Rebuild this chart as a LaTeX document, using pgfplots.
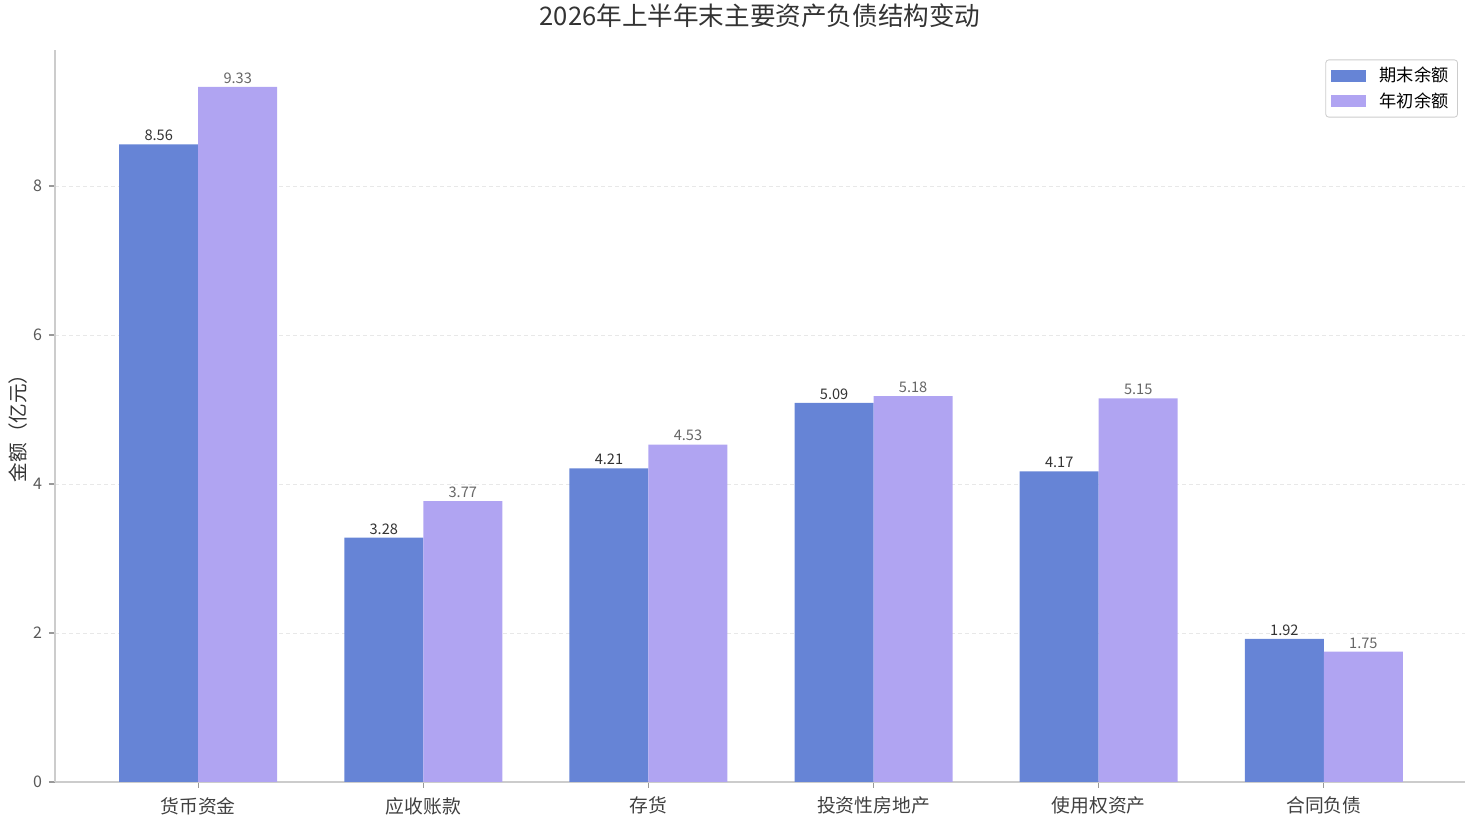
\documentclass[border=0pt]{standalone}
\usepackage{fontspec}
\setmainfont{Noto Sans CJK SC}
\usepackage{pgfplots}
\pgfplotsset{compat=1.18}
\definecolor{cA}{HTML}{6684D6}
\definecolor{cB}{HTML}{B0A4F2}
\definecolor{spine}{HTML}{CCCCCC}
\definecolor{gridc}{HTML}{E8E8E8}
\begin{document}
\begin{tikzpicture}
\begin{axis}[
  scale only axis,
  width=705pt, height=366pt,
  ybar=0pt, bar width=39.5pt,
  xmin=-0.636, xmax=5.627,
  ymin=0, ymax=9.826,
  axis x line*=bottom, axis y line*=left,
  axis line style={spine, line width=0.8pt, -},
  xtick={0,1,2,3,4,5},
  xticklabels={货币资金,应收账款,存货,投资性房地产,使用权资产,合同负债},
  ytick={0,2,4,6,8},
  tick style={color=gray!80, line width=0.6pt},
  major tick length=3pt,
  tick align=outside,
  xticklabel style={font=\fontsize{9.4}{10}\selectfont, text=black!75, yshift=-1pt},
  yticklabel style={font=\fontsize{8}{10}\selectfont, text=black!65},
  /pgf/number format/assume math mode=true,
  ymajorgrids,
  grid style={gridc, dash pattern=on 2pt off 1.5pt, line width=0.4pt},
  nodes near coords,
  nodes near coords style={font=\fontsize{7.3}{8}\selectfont, anchor=south, inner sep=1.5pt,
     /pgf/number format/fixed, /pgf/number format/precision=2, /pgf/number format/fixed zerofill},
  legend style={at={(0.995,0.987)}, anchor=north east, draw=spine, rounded corners=1.5pt,
     font=\fontsize{8.6}{10}\selectfont, inner xsep=2.5pt, inner ysep=1.5pt, row sep=0pt,
     /tikz/every even column/.append style={column sep=2pt}},
  legend image code/.code={\fill[#1, sharp corners] (0pt,-3pt) rectangle (17.5pt,3pt);},
  legend cell align=left,
  clip=false,
]
\addplot[fill=cA, draw=none, every node near coord/.append style={text=black!80}]
  coordinates {(0,8.56) (1,3.28) (2,4.21) (3,5.09) (4,4.17) (5,1.92)};
\addlegendentry{\hspace{5pt}期末余额}
\addplot[fill=cB, draw=none, every node near coord/.append style={text=black!60}]
  coordinates {(0,9.33) (1,3.77) (2,4.53) (3,5.18) (4,5.15) (5,1.75)};
\addlegendentry{\hspace{5pt}年初余额}
\coordinate (sw) at (rel axis cs:0,0);
\coordinate (ne) at (rel axis cs:1,1);
\node[font=\fontsize{12.8}{14}\selectfont, text=black!80] at ([yshift=17pt]rel axis cs:0.5,1) {2026年上半年末主要资产负债结构变动};
\node[font=\fontsize{9.8}{12}\selectfont, text=black!80, rotate=90, anchor=center] at ([xshift=-18.5pt]rel axis cs:0,0.49) {金额（亿元）};
\end{axis}
\pgfresetboundingbox
\path[use as bounding box] ([shift={(-27.5pt,-17.5pt)}]sw) rectangle ([shift={(0.5pt,25pt)}]ne);
\end{tikzpicture}
\end{document}
